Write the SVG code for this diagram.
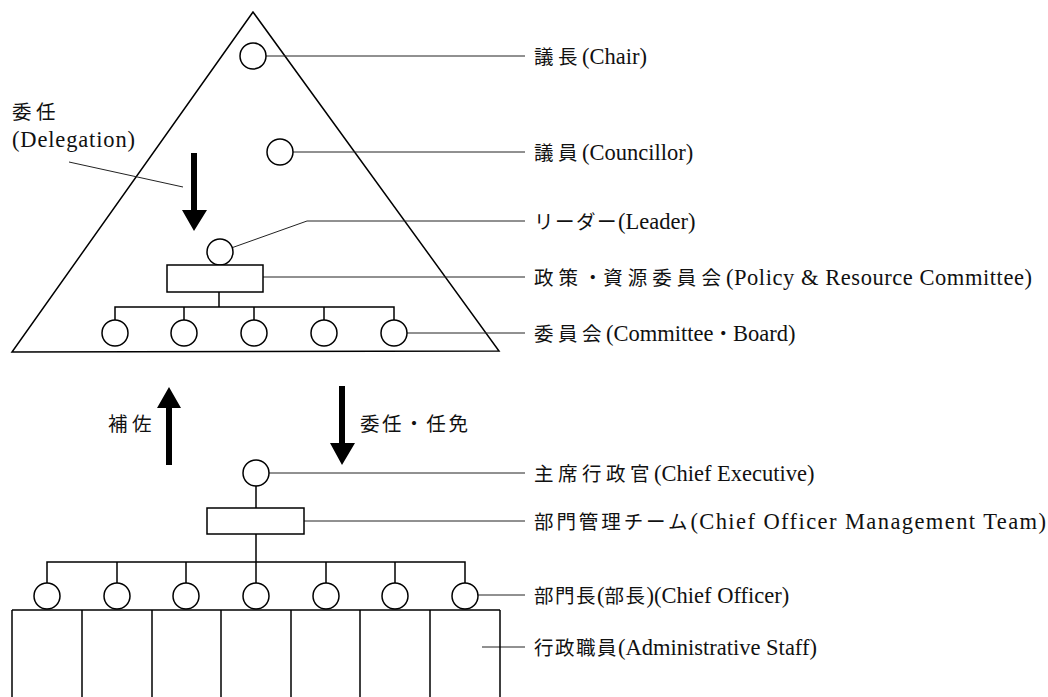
<svg xmlns="http://www.w3.org/2000/svg" width="1048" height="697" viewBox="0 0 1048 697">
<style>
.ln{stroke:#000;stroke-width:1.5;fill:none}
.nd{fill:#fff;stroke:#000;stroke-width:1.5}
.ld{stroke:#222;stroke-width:1;fill:none}
.ar{fill:#000;stroke:none}
.t{font-family:"Liberation Serif","Noto Sans CJK JP",serif;font-size:22.5px;fill:#111}
.j{font-family:"Noto Sans CJK JP","Liberation Serif",sans-serif;font-size:19.5px;letter-spacing:4.5px}
.k{font-family:"Noto Sans CJK JP","Liberation Serif",sans-serif;font-size:19.5px;letter-spacing:1.5px}
.d{font-family:"Noto Sans CJK JP","Liberation Serif",sans-serif;font-size:19.5px}
</style>
<rect width="1048" height="697" fill="#fff"/>
<g id="council">
<polygon class="ln" points="253,12 12,352 499,351"/>
</g>
<g id="connectors">
<line class="ld" x1="253" y1="56" x2="525" y2="56"/>
<line class="ld" x1="280" y1="152" x2="525" y2="152"/>
<polyline class="ld" points="220,252 307,221 525,221"/>
<line class="ld" x1="255" y1="277" x2="525" y2="277"/>
<line class="ld" x1="394" y1="333" x2="525" y2="333"/>
<line class="ld" x1="69" y1="162" x2="183" y2="187"/>
<polyline class="ln" points="219,292 219,307"/>
<polyline class="ln" points="115,320 115,307 394,307 394,320"/>
<line class="ln" x1="184" y1="307" x2="184" y2="320"/>
<line class="ln" x1="254" y1="307" x2="254" y2="320"/>
<line class="ln" x1="324" y1="307" x2="324" y2="320"/>
<line class="ld" x1="256" y1="473" x2="525" y2="473"/>
<line class="ld" x1="292" y1="521" x2="525" y2="521"/>
<line class="ld" x1="465" y1="595" x2="525" y2="595"/>
<line class="ld" x1="482" y1="647" x2="525" y2="647"/>
<line class="ln" x1="256" y1="486" x2="256" y2="508"/>
<line class="ln" x1="256" y1="534" x2="256" y2="562"/>
<polyline class="ln" points="47,583 47,562 465,562 465,583"/>
<line class="ln" x1="117" y1="562" x2="117" y2="583"/>
<line class="ln" x1="186" y1="562" x2="186" y2="583"/>
<line class="ln" x1="256" y1="562" x2="256" y2="583"/>
<line class="ln" x1="326" y1="562" x2="326" y2="583"/>
<line class="ln" x1="395" y1="562" x2="395" y2="583"/>
<path class="ar" d="M191,153 H197 V210 H207 L194,231 L182,210 H191 Z"/>
<path class="ar" d="M166,465 V408 H157 L169,387 L181,408 H172 V465 Z"/>
<path class="ar" d="M339,386 H345 V443 H355 L342,465 L330,443 H339 Z"/>
</g>
<g id="chair"><circle class="nd" cx="253" cy="56" r="13"/></g>
<g id="councillor"><circle class="nd" cx="280" cy="152" r="13"/></g>
<g id="leader"><circle class="nd" cx="220" cy="252" r="13"/></g>
<g id="policy-committee"><rect class="nd" x="167" y="265" width="96" height="27"/></g>
<g id="committees">
<circle class="nd" cx="115" cy="333" r="13"/>
<circle class="nd" cx="184" cy="333" r="13"/>
<circle class="nd" cx="254" cy="333" r="13"/>
<circle class="nd" cx="324" cy="333" r="13"/>
<circle class="nd" cx="394" cy="333" r="13"/>
</g>
<g id="chief-executive"><circle class="nd" cx="256" cy="473" r="13"/></g>
<g id="management-team"><rect class="nd" x="207" y="508" width="97" height="26"/></g>
<g id="staff">
<line class="ln" x1="12" y1="610" x2="500" y2="610"/>
<line class="ln" x1="12" y1="610" x2="12" y2="697"/>
<line class="ln" x1="82" y1="610" x2="82" y2="697"/>
<line class="ln" x1="152" y1="610" x2="152" y2="697"/>
<line class="ln" x1="221" y1="610" x2="221" y2="697"/>
<line class="ln" x1="291" y1="610" x2="291" y2="697"/>
<line class="ln" x1="360" y1="610" x2="360" y2="697"/>
<line class="ln" x1="430" y1="610" x2="430" y2="697"/>
<line class="ln" x1="500" y1="610" x2="500" y2="697"/>
</g>
<g id="chief-officers">
<circle class="nd" cx="47" cy="596" r="13"/>
<circle class="nd" cx="117" cy="596" r="13"/>
<circle class="nd" cx="186" cy="596" r="13"/>
<circle class="nd" cx="256" cy="596" r="13"/>
<circle class="nd" cx="326" cy="596" r="13"/>
<circle class="nd" cx="395" cy="596" r="13"/>
<circle class="nd" cx="465" cy="596" r="13"/>
</g>
<g id="labels">
<text class="t" x="534" y="64"><tspan class="j">議長</tspan>(Chair)</text>
<text class="t" x="534" y="160"><tspan class="j">議員</tspan>(Councillor)</text>
<text class="t" x="534" y="229"><tspan class="k">リーダー</tspan>(Leader)</text>
<text class="t" x="534" y="285" textLength="498" lengthAdjust="spacing"><tspan class="j">政策</tspan><tspan class="d">・</tspan><tspan class="j">資源委員会</tspan>(Policy &amp; Resource Committee)</text>
<text class="t" x="534" y="341"><tspan class="j">委員会</tspan>(Committee<tspan class="d">・</tspan>Board)</text>
<text class="t" x="534" y="481"><tspan class="j">主席行政官</tspan>(Chief Executive)</text>
<text class="t" x="534" y="529" textLength="512" lengthAdjust="spacing"><tspan class="k">部門管理チーム</tspan>(Chief Officer Management Team)</text>
<text class="t" x="534" y="603"><tspan class="k">部門長</tspan>(<tspan class="k">部長</tspan>)(Chief Officer)</text>
<text class="t" x="534" y="655"><tspan class="k">行政職員</tspan>(Administrative Staff)</text>
<text class="t" x="12" y="119"><tspan class="j">委任</tspan></text>
<text class="t" x="12" y="147" textLength="123" lengthAdjust="spacing">(Delegation)</text>
<text class="t" x="108" y="431"><tspan class="j">補佐</tspan></text>
<text class="t" x="360" y="431" textLength="108" lengthAdjust="spacing"><tspan class="d">委任・任免</tspan></text>
</g>
</svg>
